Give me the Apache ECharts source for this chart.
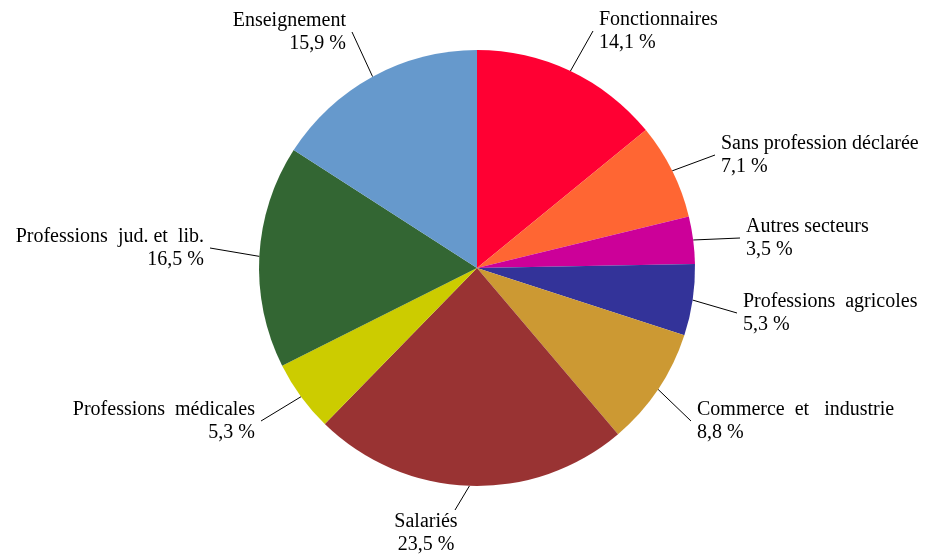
<!DOCTYPE html>
<html><head><meta charset="utf-8">
<script src="https://cdn.jsdelivr.net/npm/echarts@6.0.0/dist/echarts.min.js"></script>
<style>html,body{margin:0;padding:0;background:#fff}#c{width:928px;height:557px}</style>
</head><body><div id="c"></div>
<script>
// Data (clockwise from 12 o'clock)
const categories = [
  'Fonctionnaires',
  'Sans profession déclarée',
  'Autres secteurs',
  'Professions  agricoles',
  'Commerce  et   industrie',
  'Salariés',
  'Professions  médicales',
  'Professions  jud. et  lib.',
  'Enseignement'
];
const shares = [14.1, 7.1, 3.5, 5.3, 8.8, 23.5, 5.3, 16.5, 15.9];
const colors = ['#FF0033', '#FF6633', '#CC0099', '#333399', '#CC9933', '#993333', '#CCCC00', '#336633', '#6699CC'];

// Label text placement: [x, middle y, text align]
const labelPlacement = [
  [599, 31, 'left'],
  [721, 155, 'left'],
  [746, 238, 'left'],
  [743, 313, 'left'],
  [697, 421, 'left'],
  [426, 533, 'center'],
  [255, 421, 'right'],
  [204, 248, 'right'],
  [346, 32, 'right']
];
const GAP = 6;

const chart = echarts.init(document.getElementById('c'), null, {renderer: 'canvas'});
const fmt = v => v.toFixed(1).replace('.', ',') + ' %';

chart.setOption({
  animation: false,
  backgroundColor: '#ffffff',
  series: [{
    type: 'pie',
    center: [477, 268],
    radius: 218,
    startAngle: 90,
    clockwise: true,
    avoidLabelOverlap: false,
    emphasis: {disabled: true},
    itemStyle: {borderWidth: 0},
    data: categories.map((n, i) => ({name: n, value: shares[i], itemStyle: {color: colors[i]}})),
    label: {
      show: true,
      position: 'outside',
      formatter: p => p.name + '\n' + fmt(p.value),
      fontFamily: 'Liberation Serif',
      fontSize: 20,
      lineHeight: 23,
      color: '#000'
    },
    labelLine: {
      show: true,
      length: 10,
      length2: 0,
      smooth: false,
      lineStyle: {color: '#000', width: 1}
    },
    labelLayout: function (params) {
      const p = labelPlacement[params.dataIndex];
      const x = p[0], y = p[1], align = p[2];
      let end;
      if (align === 'left') end = [x - GAP, y];
      else if (align === 'right') end = [x + GAP, y];
      else end = [x + 29, y - 23];
      const res = {x: x, y: y, align: align, verticalAlign: 'middle'};
      if (params.labelLinePoints && params.labelLinePoints.length) {
        res.labelLinePoints = [params.labelLinePoints[0], end];
      }
      return res;
    }
  }]
});
</script>
</body></html>
